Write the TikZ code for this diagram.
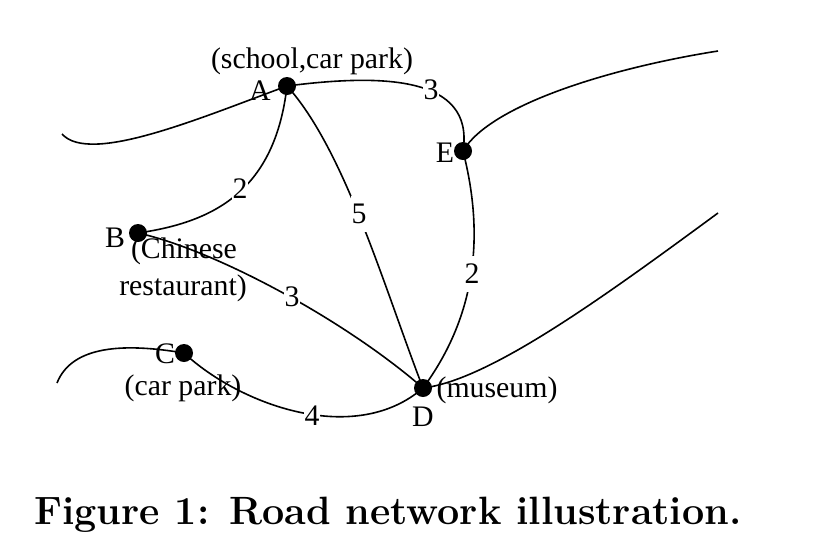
\documentclass[tikz,border=0pt]{standalone}
\usepackage{fontspec}
\newfontfamily\labelfont{Liberation Serif}
\usetikzlibrary{backgrounds}
\tikzset{
  x=1pt,y=-1pt,
  dot/.style={circle,fill=black,inner sep=0pt,minimum size=18pt},
  txt/.style={inner sep=0pt,font=\labelfont\fontsize{29.8}{34}\selectfont},
  weight/.style={fill=white,inner xsep=1pt,inner ysep=8pt,font=\labelfont\fontsize{29.8}{34}\selectfont},
  road/.style={line width=1.6pt,black},
  title/.style={inner sep=0pt,font=\bfseries\fontsize{39.5}{44}\selectfont}
}
\begin{document}
\begin{tikzpicture}
\useasboundingbox (0,0) rectangle (826,550);
% junctions
\node[dot] (A) at (287,86) {};
\node[dot] (B) at (138,233) {};
\node[dot] (C) at (184,353) {};
\node[dot] (D) at (423,388) {};
\node[dot] (E) at (463,151) {};
% free road ends
\coordinate (endA) at (62,134);
\coordinate (endC) at (57,383);
\coordinate (endE) at (718,51);
\coordinate (endD) at (718,213);
\begin{scope}[on background layer]
\draw[road] (A.center) .. controls (200,118) and (90,165) .. (endA);
\draw[road] (C.center) .. controls (125,343) and (72,345) .. (endC);
\draw[road] (E.center) .. controls (490,105) and (610,68) .. (endE);
\draw[road] (D.center) .. controls (490,380) and (605,296) .. (endD);
\draw[road] (A.center) .. controls (380,74) and (475,75) .. (E.center);
\draw[road] (E.center) .. controls (478,210) and (488,300) .. (D.center);
\draw[road] (A.center) .. controls (275,190) and (215,222) .. (B.center);
\draw[road] (A.center) .. controls (345,150) and (385,290) .. (D.center);
\draw[road] (B.center) .. controls (215,250) and (345,320) .. (D.center);
\draw[road] (C.center) .. controls (240,405) and (355,447) .. (D.center);
\end{scope}
% weights
\node[weight] (wAE) at (431,90) {3};
\node[weight] (wAB) at (240,189) {2};
\node[weight] (wAD) at (359,214) {5};
\node[weight] (wBD) at (292,297) {3};
\node[weight] (wED) at (472,274) {2};
\node[weight] (wCD) at (312,416) {4};
% names
\node[txt] (lA) at (260,91) {A};
\node[txt] (lB) at (115,238) {B};
\node[txt] (lC) at (165,354) {C};
\node[txt] (lD) at (423,417) {D};
\node[txt] (lE) at (445,153) {E};
\node[txt] (pA) at (312,61) {(school,car park)};
\node[txt] (pB1) at (184,251) {(Chinese};
\node[txt] (pB2) at (183,288) {restaurant)};
\node[txt] (pC) at (183,388) {(car park)};
\node[txt] (pD) at (497,390) {(museum)};
\node[title] (cap) at (388,515) {Figure 1: Road network illustration.};
\end{tikzpicture}
\end{document}
